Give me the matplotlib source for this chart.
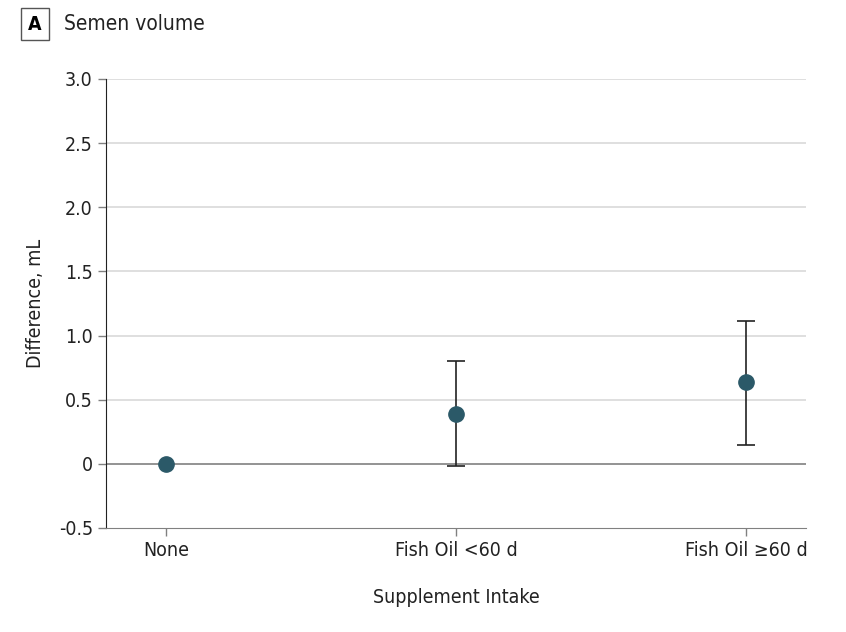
import matplotlib.pyplot as plt
import numpy as np

plt.rcParams['font.family'] = ['DejaVu Sans']
plt.rcParams['font.stretch'] = 'condensed'

groups = ['None', 'Fish Oil <60 d', 'Fish Oil ≥60 d']
diff = [0.0, 0.39, 0.64]
lower = [0.0, -0.02, 0.15]
upper = [0.0, 0.80, 1.11]
yticks = [-0.5, 0, 0.5, 1.0, 1.5, 2.0, 2.5, 3.0]
yticklabels = ['-0.5', '0', '0.5', '1.0', '1.5', '2.0', '2.5', '3.0']

fig = plt.figure(figsize=(8.46, 6.32), dpi=100)
ax = fig.add_axes([0.1253, 0.1646, 0.8274, 0.7104])

x = np.arange(len(groups))
ax.set_xlim(-0.207, 2.207)
ax.set_ylim(-0.5, 3.0)

for yv in yticks[2:]:
    ax.axhline(yv, color='#d9d9d9', lw=1.2, zorder=1)
ax.axhline(0, color='#808080', lw=1.2, zorder=1)

# error bars only where there is an interval
d = np.array(diff)
lo = np.array(lower)
hi = np.array(upper)
has_ci = hi > lo
ax.errorbar(x[has_ci], d[has_ci], yerr=[d[has_ci] - lo[has_ci], hi[has_ci] - d[has_ci]],
            fmt='none', ecolor='#222222', elinewidth=1.2, capsize=6.5, capthick=1.2, zorder=2)
ax.plot(x, d, 'o', color='#2b5968', markersize=11, zorder=3)

ax.set_yticks(yticks)
ax.set_yticklabels(yticklabels)
ax.set_xticks(x)
ax.set_xticklabels(groups)
ax.tick_params(axis='both', labelsize=14, colors='#222222', length=6, width=1)
ax.tick_params(axis='y', color='#808080')
ax.tick_params(axis='x', color='#808080')

for s in ['top', 'right']:
    ax.spines[s].set_visible(False)
ax.spines['left'].set_color('#222222')
ax.spines['bottom'].set_color('#808080')

ax.set_ylabel('Difference, mL', fontsize=14, color='#222222', labelpad=10)
ax.set_xlabel('Supplement Intake', fontsize=14, color='#222222', labelpad=20)

fig.text(0.0415, 0.962, 'A', fontsize=14, fontweight='bold', ha='center', va='center',
         bbox=dict(boxstyle='square,pad=0.35', fc='white', ec='#555555', lw=1))
fig.text(0.076, 0.962, 'Semen volume', fontsize=15, ha='left', va='center', color='#222222')

fig.savefig('out.png', dpi=100)
